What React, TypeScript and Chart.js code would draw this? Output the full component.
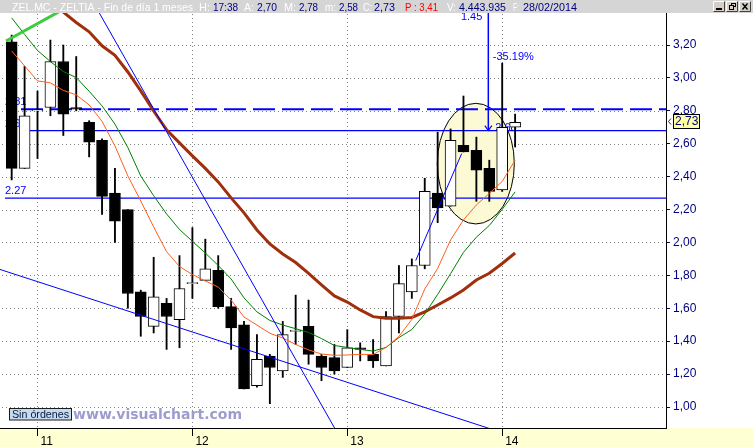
import { useEffect, useRef } from 'react';
import { Chart, registerables } from 'chart.js';

Chart.register(...registerables);

// ZEL.MC monthly bars: index 0 = Nov 2010 ... index 39 = Feb 2014
const OPEN = [3.22, 2.45, 2.80, 2.82, 3.10, 2.82, 2.73, 2.62, 2.30, 2.20, 1.70, 1.49, 1.63, 1.53, 1.75, 1.77, 1.83, 1.61, 1.50, 1.13, 1.31, 1.22, 1.46, 1.49, 1.31, 1.30, 1.24, 1.36, 1.32, 1.25, 1.55, 1.70, 1.86, 2.30, 2.22, 2.59, 2.56, 2.45, 2.32, 2.70];
const HIGH = [3.26, 3.07, 2.92, 3.23, 3.20, 3.13, 2.74, 2.63, 2.45, 2.20, 1.71, 1.91, 1.66, 1.92, 2.09, 2.02, 1.92, 1.66, 1.52, 1.44, 1.32, 1.52, 1.68, 1.65, 1.32, 1.38, 1.47, 1.39, 1.41, 1.58, 1.86, 1.90, 2.39, 2.67, 2.69, 2.89, 2.64, 2.50, 3.09, 2.78];
const LOW = [2.38, 2.45, 2.51, 2.77, 2.65, 2.80, 2.52, 2.17, 2.00, 1.60, 1.43, 1.45, 1.35, 1.36, 1.66, 1.77, 1.60, 1.35, 1.11, 1.12, 1.02, 1.18, 1.38, 1.26, 1.16, 1.20, 1.24, 1.28, 1.24, 1.25, 1.45, 1.66, 1.84, 2.12, 2.22, 2.55, 2.25, 2.25, 2.31, 2.58];
const CLOSE = [2.45, 2.77, 2.80, 3.10, 2.78, 2.81, 2.61, 2.28, 2.13, 1.69, 1.55, 1.67, 1.55, 1.72, 1.75, 1.84, 1.61, 1.48, 1.11, 1.29, 1.24, 1.44, 1.46, 1.32, 1.24, 1.22, 1.36, 1.35, 1.28, 1.55, 1.75, 1.86, 2.31, 2.21, 2.62, 2.55, 2.44, 2.31, 2.70, 2.73];

// moving averages of the close (fast = orange, mid = green, slow = brown)
const MA_FAST = [3.164, 3.073, 2.982, 2.970, 2.924, 2.897, 2.836, 2.736, 2.587, 2.404, 2.252, 2.094, 1.944, 1.854, 1.805, 1.766, 1.729, 1.650, 1.547, 1.498, 1.448, 1.419, 1.380, 1.347, 1.322, 1.314, 1.316, 1.320, 1.319, 1.362, 1.429, 1.532, 1.717, 1.842, 2.015, 2.137, 2.228, 2.298, 2.371, 2.500];
const MA_MID = [3.365, 3.264, 3.167, 3.099, 3.039, 3.002, 2.919, 2.830, 2.719, 2.577, 2.404, 2.284, 2.173, 2.079, 2.007, 1.936, 1.860, 1.778, 1.663, 1.578, 1.526, 1.498, 1.476, 1.453, 1.416, 1.374, 1.362, 1.350, 1.340, 1.362, 1.422, 1.471, 1.565, 1.684, 1.810, 1.940, 2.032, 2.103, 2.201, 2.307];
const MA_SLOW = [null, null, null, 3.46, 3.40, 3.337, 3.280, 3.195, 3.137, 3.036, 2.921, 2.799, 2.684, 2.605, 2.526, 2.450, 2.368, 2.271, 2.180, 2.076, 1.991, 1.930, 1.878, 1.812, 1.742, 1.675, 1.638, 1.590, 1.549, 1.539, 1.539, 1.544, 1.578, 1.620, 1.663, 1.711, 1.772, 1.813, 1.872, 1.936];

// axes
const PRICE_TICKS = [1.0, 1.2, 1.4, 1.6, 1.8, 2.0, 2.2, 2.4, 2.6, 2.8, 3.0, 3.2];
const YEAR_TICKS = [2, 14, 26, 38];
const YEAR_LABELS = ['11', '12', '13', '14'];

// horizontal price levels and the bar index where each one starts
const LEVEL_VALUES = [2.81, 2.68, 2.27];
const LEVEL_FROM = [0.72, 1.03, -0.52];

// trend lines, as (bar index, price) end points
const TREND_UP = [{ x: -0.44, y: 3.224 }, { x: 5, y: 3.46 }];
const TREND_STEEP = [{ x: 6, y: 3.504 }, { x: 26, y: 0.736 }];
const TREND_FLOOR = [{ x: -0.905, y: 1.836 }, { x: 38, y: 0.844 }];
const TREND_SHORT = [{ x: 31.3, y: 1.89 }, { x: 34.86, y: 2.54 }];

// measuring tool dropped onto the 2.68 level
const MEASURE_X = 36.925;
const MEASURE_FROM = 2.68;
const MEASURE_TO = 3.6;
const MEASURE_TEXT = '1.45';
const MEASURE_PCT = '-35.19%';

// highlighted zone around the last bars (centre and half axes in index / price)
const ZONE_X = 35.956;
const ZONE_Y = 2.479;
const ZONE_RX = 2.983;
const ZONE_RY = 0.3665;

// session info for the title strip
const INFO_TIME = '17:38';
const INFO_PREV = '3,41';
const INFO_VOLUME = '4.443.935';
const INFO_DATE = '28/02/2014';

const X_MIN = -0.905;
const X_MAX = 50.69;
const Y_MIN = 0.8724;
const Y_MAX = 3.3945;

const SANS = '"Liberation Sans", Arial, sans-serif';
const BLUE = '#0000ff';
const NAVY = '#000080';
const GRID = '#808080';
const HEADER_H = 13;

const fmt = (v: number) => v.toFixed(2).replace('.', ',');

function fitText(ctx: CanvasRenderingContext2D, text: string, x: number, y: number, w: number) {
  const m = ctx.measureText(text).width || 1;
  ctx.save();
  ctx.translate(x, y);
  ctx.scale(w / m, 1);
  ctx.fillText(text, 0, 0);
  ctx.restore();
}

const last = CLOSE.length - 1;

// white paper, yellow date strip and the dotted price/year grid
const paperPlugin = {
  id: 'paper',
  beforeDraw(chart: any) {
    const { ctx, width, height, chartArea } = chart;
    const xs = chart.scales.x;
    const ys = chart.scales.y;
    ctx.save();
    ctx.fillStyle = '#ffffff';
    ctx.fillRect(0, 0, width, height);
    ctx.fillStyle = '#ffffd4';
    ctx.fillRect(0, chartArea.bottom, width, height - chartArea.bottom);

    ctx.fillStyle = GRID;
    PRICE_TICKS.forEach((v) => {
      const y = Math.round(ys.getPixelForValue(v));
      for (let x = Math.floor(chartArea.left) + 2; x < chartArea.right; x += 4) ctx.fillRect(x, y, 1, 1);
    });
    YEAR_TICKS.forEach((v) => {
      const x = Math.round(xs.getPixelForValue(v));
      for (let y = Math.floor(chartArea.top) + 1; y < chartArea.bottom; y += 4) ctx.fillRect(x, y, 1, 1);
    });
    ctx.restore();
  },
};

const underlayPlugin = {
  id: 'underlay',
  beforeDatasetsDraw(chart: any) {
    const { ctx, chartArea } = chart;
    const xs = chart.scales.x;
    const ys = chart.scales.y;
    ctx.save();
    ctx.beginPath();
    ctx.rect(chartArea.left, chartArea.top, chartArea.right - chartArea.left, chartArea.bottom - chartArea.top);
    ctx.clip();

    // highlighted zone
    const cx = xs.getPixelForValue(ZONE_X);
    const cy = ys.getPixelForValue(ZONE_Y);
    const rx = Math.abs(xs.getPixelForValue(ZONE_X + ZONE_RX) - cx);
    const ry = Math.abs(ys.getPixelForValue(ZONE_Y + ZONE_RY) - cy);
    ctx.beginPath();
    ctx.ellipse(cx, cy, rx, ry, 0, 0, Math.PI * 2);
    ctx.fillStyle = '#fcfad4';
    ctx.fill();
    ctx.lineWidth = 1;
    ctx.strokeStyle = '#000000';
    ctx.stroke();

    // level captions
    ctx.font = '11px ' + SANS;
    ctx.fillStyle = BLUE;
    ctx.textAlign = 'left';
    ctx.textBaseline = 'alphabetic';
    LEVEL_VALUES.forEach((v) => {
      const y = ys.getPixelForValue(v);
      ctx.fillText(v.toFixed(2), chartArea.left + 5, y - 4);
    });
    // caption of the measured level, next to the measuring line
    const mx = xs.getPixelForValue(MEASURE_X);
    ctx.fillText(MEASURE_FROM.toFixed(2), mx + 7, ys.getPixelForValue(MEASURE_FROM));
    ctx.restore();
  },
};

const overlayPlugin = {
  id: 'overlay',
  afterDatasetsDraw(chart: any) {
    const { ctx, chartArea } = chart;
    const xs = chart.scales.x;
    const ys = chart.scales.y;

    // arrow head and captions of the measuring line
    const mx = xs.getPixelForValue(MEASURE_X);
    const my = ys.getPixelForValue(MEASURE_FROM);
    ctx.save();
    ctx.strokeStyle = BLUE;
    ctx.lineWidth = 1.2;
    ctx.beginPath();
    ctx.moveTo(mx - 3.5, my - 5);
    ctx.lineTo(mx, my);
    ctx.lineTo(mx + 3.5, my - 5);
    ctx.stroke();
    ctx.font = '11px ' + SANS;
    ctx.fillStyle = BLUE;
    ctx.textAlign = 'right';
    ctx.fillText(MEASURE_TEXT, mx - 6, chartArea.top + 7);
    ctx.textAlign = 'left';
    ctx.fillText(MEASURE_PCT, mx + 4.5, chartArea.top + 47);

    // order panel button
    ctx.fillStyle = '#c6daf0';
    ctx.fillRect(9.5, 408.5, 62, 11.5);
    ctx.strokeStyle = '#1a1a1a';
    ctx.lineWidth = 1;
    ctx.strokeRect(9.5, 408.5, 62, 11.5);
    ctx.font = '10px ' + SANS;
    ctx.fillStyle = '#0a1a3a';
    fitText(ctx, 'Sin órdenes', 12, 418, 57);

    // watermark
    ctx.font = 'bold 14px "DejaVu Sans", Verdana, sans-serif';
    ctx.fillStyle = '#9c9ccf';
    fitText(ctx, 'www.visualchart.com', 73, 418.5, 169);
    ctx.restore();
  },
  afterDraw(chart: any) {
    const { ctx, width, chartArea } = chart;
    const ys = chart.scales.y;

    // last price tag on the price axis
    const py = Math.round(ys.getPixelForValue(CLOSE[last])) - 1;
    const ax = chartArea.right;
    ctx.save();
    ctx.fillStyle = '#ffffa6';
    ctx.fillRect(ax + 7.5, py - 6.5, 26, 14);
    ctx.strokeStyle = '#000000';
    ctx.lineWidth = 1;
    ctx.strokeRect(ax + 7.5, py - 6.5, 26, 14);
    ctx.font = '12px ' + SANS;
    ctx.fillStyle = NAVY;
    ctx.textBaseline = 'middle';
    ctx.fillText(fmt(CLOSE[last]), ax + 9, py + 1);
    ctx.beginPath();
    ctx.moveTo(ax + 5, py - 2.5);
    ctx.lineTo(ax + 2.5, py + 0.5);
    ctx.lineTo(ax + 5, py + 3.5);
    ctx.strokeStyle = '#303030';
    ctx.stroke();

    // title strip
    ctx.fillStyle = '#d5d5d5';
    ctx.fillRect(0, 0, width, HEADER_H);
    ctx.font = '11px ' + SANS;
    ctx.textBaseline = 'alphabetic';
    ctx.textAlign = 'left';
    const WHITE = '#ffffff';
    const parts: [string, number, number, string][] = [
      ['ZEL.MC - ZELTIA - Fin de día 1 meses', 12, 181, WHITE],
      ['H:', 199, 11, WHITE],
      [INFO_TIME, 213, 25, NAVY],
      ['A:', 244, 10, WHITE],
      [fmt(OPEN[last]), 257, 20, NAVY],
      ['M:', 284, 12, WHITE],
      [fmt(HIGH[last]), 299, 19, NAVY],
      ['m:', 325, 11, WHITE],
      [fmt(LOW[last]), 339, 19, NAVY],
      ['C:', 363, 9, WHITE],
      [fmt(CLOSE[last]), 374, 21, NAVY],
      ['P : ' + INFO_PREV, 405, 33, '#ff0000'],
      ['V:', 447, 9, WHITE],
      [INFO_VOLUME, 459, 47, NAVY],
      ['F:', 513, 6, WHITE],
      [INFO_DATE, 523, 54, NAVY],
    ];
    parts.forEach(([t, x, w, c]) => {
      ctx.fillStyle = c;
      fitText(ctx, t, x, 11, w);
    });

    // window buttons
    [713, 726, 739].forEach((bx, k) => {
      const by = 1;
      ctx.fillStyle = '#d4d0c8';
      ctx.fillRect(bx, by, 12, 11);
      ctx.strokeStyle = '#ffffff';
      ctx.beginPath();
      ctx.moveTo(bx + 0.5, by + 10.5);
      ctx.lineTo(bx + 0.5, by + 0.5);
      ctx.lineTo(bx + 11.5, by + 0.5);
      ctx.stroke();
      ctx.strokeStyle = '#404040';
      ctx.beginPath();
      ctx.moveTo(bx + 11.5, by + 0.5);
      ctx.lineTo(bx + 11.5, by + 10.5);
      ctx.lineTo(bx + 0.5, by + 10.5);
      ctx.stroke();
      ctx.fillStyle = '#000000';
      ctx.strokeStyle = '#000000';
      if (k === 0) {
        ctx.fillRect(bx + 3, by + 7, 6, 2);
      } else if (k === 1) {
        ctx.strokeRect(bx + 5.5, by + 2.5, 4, 3);
        ctx.fillStyle = '#d4d0c8';
        ctx.fillRect(bx + 3, by + 4, 5, 5);
        ctx.strokeRect(bx + 3.5, by + 4.5, 4, 4);
        ctx.fillStyle = '#000000';
        ctx.fillRect(bx + 3, by + 4, 5, 1);
      } else {
        ctx.lineWidth = 1.4;
        ctx.beginPath();
        ctx.moveTo(bx + 3.5, by + 2.5);
        ctx.lineTo(bx + 8.5, by + 8.5);
        ctx.moveTo(bx + 8.5, by + 2.5);
        ctx.lineTo(bx + 3.5, by + 8.5);
        ctx.stroke();
        ctx.lineWidth = 1;
      }
    });
    ctx.restore();
  },
};

const lineStyle = (color: string, width: number) => ({
  type: 'line' as const,
  borderColor: color,
  borderWidth: width,
  pointRadius: 0,
  tension: 0,
  fill: false,
  clip: 0,
});

export default function App() {
  const ref = useRef<HTMLCanvasElement>(null);

  useEffect(() => {
    if (!ref.current) return;
    const bodies = OPEN.map((o, i) => ({ x: i, y: [o, CLOSE[i]] }));
    const wicks = LOW.map((l, i) => ({ x: i, y: [l, HIGH[i]] }));
    const bodyFill = OPEN.map((o, i) => (CLOSE[i] >= o ? '#ffffff' : '#000000'));

    const levelSets = LEVEL_VALUES.map((v, k) => ({
      ...lineStyle(BLUE, k === 0 ? 2 : 1.2),
      borderDash: k === 0 ? [22, 7] : [],
      data: [{ x: LEVEL_FROM[k], y: v }, { x: X_MAX, y: v }],
      order: 20,
    }));

    const chart = new Chart(ref.current, {
      type: 'bar',
      data: {
        datasets: [
          ...levelSets,
          {
            type: 'bar',
            data: wicks as any,
            backgroundColor: '#000000',
            borderWidth: 0,
            barThickness: 1.2,
            grouped: false,
            order: 12,
          } as any,
          {
            type: 'bar',
            data: bodies as any,
            backgroundColor: bodyFill,
            borderColor: '#000000',
            borderWidth: 1,
            borderSkipped: false,
            barThickness: 11,
            minBarLength: 1,
            grouped: false,
            order: 11,
          } as any,
          { ...lineStyle('#a0300c', 3), data: MA_SLOW.map((v, i) => ({ x: i, y: v })), order: 6 } as any,
          { ...lineStyle('#008000', 1), data: MA_MID.map((v, i) => ({ x: i, y: v })), order: 5 } as any,
          { ...lineStyle('#ff5f1f', 1), data: MA_FAST.map((v, i) => ({ x: i, y: v })), order: 4 } as any,
          { ...lineStyle('#3ccc3c', 3), data: TREND_UP, order: 3 } as any,
          { ...lineStyle(BLUE, 1), data: TREND_STEEP, order: 3 } as any,
          { ...lineStyle(BLUE, 1), data: TREND_FLOOR, order: 3 } as any,
          { ...lineStyle(BLUE, 1), data: TREND_SHORT, order: 7 } as any,
          {
            ...lineStyle(BLUE, 1.5),
            data: [{ x: MEASURE_X, y: MEASURE_FROM }, { x: MEASURE_X, y: MEASURE_TO }],
            order: 2,
          } as any,
        ],
      },
      options: {
        responsive: false,
        animation: false,
        devicePixelRatio: 1,
        events: [],
        layout: { padding: { top: HEADER_H, left: 0, right: 0, bottom: 0 }, autoPadding: false },
        plugins: { legend: { display: false }, tooltip: { enabled: false }, title: { display: false } },
        scales: {
          x: {
            type: 'linear',
            min: X_MIN,
            max: X_MAX,
            offset: false,
            afterBuildTicks: (s: any) => {
              s.ticks = YEAR_TICKS.map((v) => ({ value: v }));
            },
            afterFit: (s: any) => {
              s.height = 19;
            },
            ticks: {
              callback: (_v: any, i: number) => YEAR_LABELS[i],
              align: 'start',
              labelOffset: 3,
              padding: -2,
              color: '#000000',
              font: { family: SANS, size: 12 },
              maxRotation: 0,
              autoSkip: false,
            },
            grid: {
              drawOnChartArea: false,
              offset: false,
              drawTicks: true,
              tickLength: 8,
              tickColor: '#000000',
              tickBorderDash: [],
            },
            border: { display: true, color: '#000000', width: 1 },
          },
          y: {
            type: 'linear',
            position: 'right',
            min: Y_MIN,
            max: Y_MAX,
            beginAtZero: false,
            afterBuildTicks: (s: any) => {
              s.ticks = PRICE_TICKS.map((v) => ({ value: v }));
            },
            afterFit: (s: any) => {
              s.width = 87;
            },
            ticks: {
              callback: (v: any) => fmt(Number(v)),
              color: NAVY,
              padding: 3,
              font: { family: SANS, size: 12 },
              autoSkip: false,
            },
            grid: {
              drawOnChartArea: false,
              drawTicks: true,
              tickLength: 4,
              tickColor: NAVY,
              tickBorderDash: [],
            },
            border: { display: true, color: '#000000', width: 1 },
          },
        },
      } as any,
      plugins: [paperPlugin, underlayPlugin, overlayPlugin],
    });
    return () => chart.destroy();
  }, []);

  return (
    <div style={{ position: 'fixed', left: 0, top: 0, width: 753, height: 447 }}>
      <canvas ref={ref} width={753} height={447} style={{ display: 'block', width: 753, height: 447 }} />
    </div>
  );
}
